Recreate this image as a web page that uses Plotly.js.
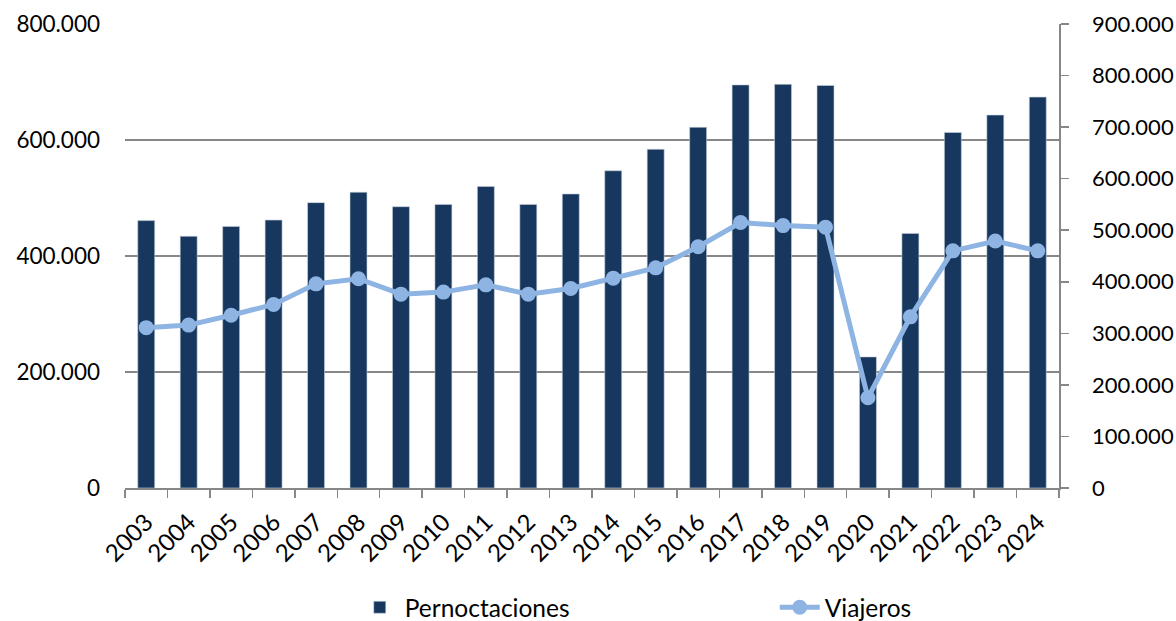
<!DOCTYPE html>
<html>
<head>
<meta charset="utf-8">
<script src="https://cdn.plot.ly/plotly-3.0.1.min.js"></script>
<style>html,body{margin:0;padding:0;background:#fff;}#chart{width:1176px;height:621px;}</style>
</head>
<body>
<div id="chart"></div>
<script>
const years = ["2003","2004","2005","2006","2007","2008","2009","2010","2011","2012","2013","2014","2015","2016","2017","2018","2019","2020","2021","2022","2023","2024"];
const pernoctaciones = [461000,434000,451000,462000,492000,510000,485000,489000,520000,489000,507000,547000,584000,622000,695000,696000,694000,226000,439000,613000,643000,674000];
const viajeros = [311000,316000,335000,356000,396000,406000,376000,380000,394000,376000,387000,407000,427000,468000,515000,509000,506000,175000,332000,460000,479000,460000];

const fontFam = "Lato, 'Open Sans', sans-serif";
const gridCol = "#878787";

const traces = [
  {
    type: "bar", name: "Pernoctaciones", x: years, y: pernoctaciones,
    marker: {color: "#17375E", line: {color: "#c9d3de", width: 0.6}},
    yaxis: "y", hoverinfo: "x+y"
  },
  {
    type: "scatter", mode: "lines+markers", name: "Viajeros", x: years, y: viajeros,
    line: {color: "#8DB4E2", width: 5},
    marker: {color: "#8DB4E2", size: 15},
    yaxis: "y2", hoverinfo: "x+y"
  }
];

const layout = {
  width: 1176, height: 621,
  margin: {l: 125, r: 117, t: 24, b: 133, pad: 0, autoexpand: false},
  paper_bgcolor: "#fff", plot_bgcolor: "#fff",
  separators: ",.",
  font: {family: fontFam, size: 23, color: "#000"},
  bargap: 0.6,
  showlegend: true,
  legend: {
    orientation: "h", x: 0.246, xanchor: "left",
    yref: "container", y: 0.022, yanchor: "middle",
    font: {family: fontFam, size: 24.5, color: "#000"},
    entrywidth: 365, entrywidthmode: "pixels", itemwidth: 40,
    traceorder: "normal"
  },
  xaxis: {
    type: "category", range: [-0.5, 21.5], autorange: false,
    tickangle: -45, tickson: "boundaries", automargin: false,
    showline: true, linecolor: gridCol, linewidth: 1.5,
    ticks: "outside", ticklen: 8, tickcolor: gridCol, tickwidth: 1.5,
    ticklabelstandoff: 9,
    showgrid: false, zeroline: false,
    tickfont: {family: fontFam, size: 24, color: "#000"}
  },
  yaxis: {
    range: [0, 800000], autorange: false, dtick: 200000, tick0: 0, tickformat: ",d",
    showgrid: true, gridcolor: gridCol, gridwidth: 1.5, automargin: false,
    showline: false, zeroline: false, ticks: "",
    ticklabelstandoff: 24,
    tickfont: {family: fontFam, size: 22.5, color: "#000"}
  },
  yaxis2: {
    range: [0, 900000], autorange: false, dtick: 100000, tick0: 0, tickformat: ",d",
    overlaying: "y", side: "right", showgrid: false, zeroline: false, automargin: false,
    showline: true, linecolor: gridCol, linewidth: 1.5,
    ticks: "outside", ticklen: 8, tickcolor: gridCol, tickwidth: 1.5,
    ticklabelstandoff: 19,
    tickfont: {family: fontFam, size: 22, color: "#000"}
  }
};

Plotly.newPlot("chart", traces, layout, {displayModeBar: false, staticPlot: true});
</script>
</body>
</html>
